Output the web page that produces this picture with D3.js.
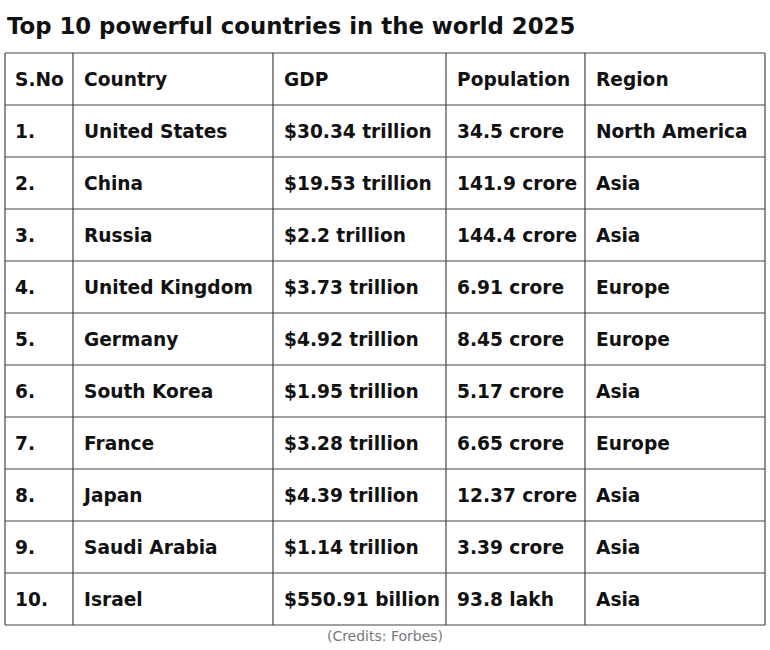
<!DOCTYPE html>
<html>
<head>
<meta charset="utf-8">
<script src="https://cdn.jsdelivr.net/npm/d3@7"></script>
<style>
  body { margin: 0; background: #fff; }
  svg { display: block; }
</style>
</head>
<body>
<div id="chart"></div>
<script>
// table data
const headers = ["S.No", "Country", "GDP", "Population", "Region"];
const serialNos = ["1.", "2.", "3.", "4.", "5.", "6.", "7.", "8.", "9.", "10."];
const countries = ["United States", "China", "Russia", "United Kingdom", "Germany",
  "South Korea", "France", "Japan", "Saudi Arabia", "Israel"];
const gdp = ["$30.34 trillion", "$19.53 trillion", "$2.2 trillion", "$3.73 trillion",
  "$4.92 trillion", "$1.95 trillion", "$3.28 trillion", "$4.39 trillion",
  "$1.14 trillion", "$550.91 billion"];
const population = ["34.5 crore", "141.9 crore", "144.4 crore", "6.91 crore",
  "8.45 crore", "5.17 crore", "6.65 crore", "12.37 crore", "3.39 crore", "93.8 lakh"];
const regions = ["North America", "Asia", "Asia", "Europe", "Europe", "Asia",
  "Europe", "Asia", "Asia", "Asia"];

const W = 770, H = 650;
const font = "'DejaVu Sans', sans-serif";

const svg = d3.select("#chart").append("svg")
  .attr("width", W)
  .attr("height", H);

svg.append("text")
  .attr("x", 7)
  .attr("y", 34)
  .attr("font-family", font)
  .attr("font-weight", "bold")
  .attr("font-size", 22.8)
  .attr("fill", "#111")
  .text("Top 10 powerful countries in the world 2025");

// layout
const tLeft = 5, tTop = 53, tRight = 765, tBottom = 625;
const colWidths = [68, 200, 173, 139, 180];
const colEdges = [tLeft];
colWidths.forEach(w => colEdges.push(colEdges[colEdges.length - 1] + w));

const rowKeys = ["head"].concat(serialNos);
const y = d3.scaleBand().domain(rowKeys).range([tTop, tBottom]);

const rows = serialNos.map((s, i) => [s, countries[i], gdp[i], population[i], regions[i]]);
const allRows = [headers].concat(rows);

const g = svg.append("g");

// cell text
allRows.forEach((r, ri) => {
  g.selectAll(null)
    .data(r)
    .enter()
    .append("text")
    .attr("x", (d, ci) => colEdges[ci] + (ci === 0 ? 10 : 11))
    .attr("y", y(rowKeys[ri]) + y.bandwidth() / 2)
    .attr("dy", "0.36em")
    .attr("font-family", font)
    .attr("font-weight", "bold")
    .attr("font-size", 18.6)
    .attr("fill", "#111")
    .text(d => d);
});

// grid lines
g.selectAll(".hline")
  .data(rowKeys.concat(["end"]))
  .enter()
  .append("line")
  .attr("x1", tLeft)
  .attr("x2", tRight)
  .attr("y1", d => d === "end" ? tBottom : y(d))
  .attr("y2", d => d === "end" ? tBottom : y(d))
  .attr("stroke", "#444")
  .attr("stroke-width", 1.2);

g.selectAll(".vline")
  .data(colEdges)
  .enter()
  .append("line")
  .attr("x1", d => d)
  .attr("x2", d => d)
  .attr("y1", tTop)
  .attr("y2", tBottom)
  .attr("stroke", "#444")
  .attr("stroke-width", 1.2);

svg.append("text")
  .attr("x", (tLeft + tRight) / 2)
  .attr("y", 641)
  .attr("text-anchor", "middle")
  .attr("font-family", font)
  .attr("font-size", 14)
  .attr("fill", "#777")
  .text("(Credits: Forbes)");
</script>
</body>
</html>
